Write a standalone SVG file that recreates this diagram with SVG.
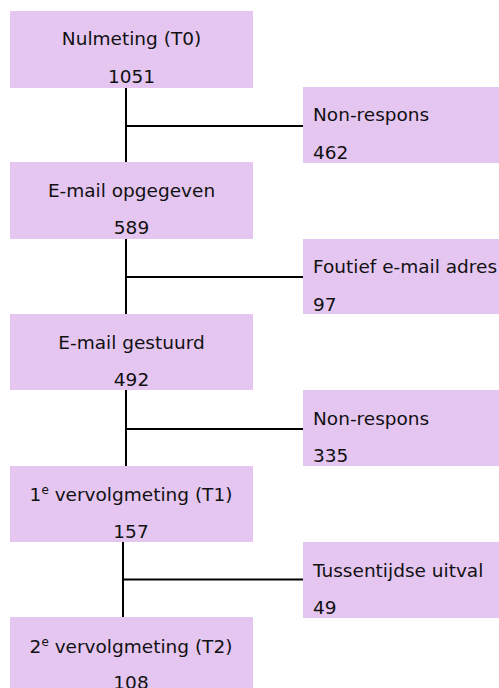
<svg xmlns="http://www.w3.org/2000/svg" width="499" height="688" viewBox="0 0 499 688">
<style>
.box{fill:#e5c6f1}
.t{font-family:"DejaVu Sans","Liberation Sans",sans-serif;font-size:18.5px;fill:#111}
.c{text-anchor:middle}
.ln{stroke:#000;stroke-width:2;fill:none}
</style>
<rect width="499" height="688" fill="#fff"/>
<g id="connectors">
<path class="ln" d="M126 88V162M126 126H303"/>
<path class="ln" d="M126 239V314M126 277H303"/>
<path class="ln" d="M126 390V466M126 429H303"/>
<path class="ln" d="M123 542V617M123 579.5H303"/>
</g>
<g id="n1"><rect class="box" x="10" y="11" width="243" height="77"/>
<text class="t c" x="131.5" y="45">Nulmeting (T0)</text><text class="t c" x="131.5" y="83">1051</text></g>
<g id="n2"><rect class="box" x="303" y="87" width="196" height="76"/>
<text class="t" x="313" y="121">Non-respons</text><text class="t" x="313" y="158.5">462</text></g>
<g id="n3"><rect class="box" x="10" y="162" width="243" height="77"/>
<text class="t c" x="131.5" y="197">E-mail opgegeven</text><text class="t c" x="131.5" y="234">589</text></g>
<g id="n4"><rect class="box" x="303" y="239" width="196" height="75"/>
<text class="t" x="313" y="273">Foutief e-mail adres</text><text class="t" x="313" y="310.5">97</text></g>
<g id="n5"><rect class="box" x="10" y="314" width="243" height="76"/>
<text class="t c" x="131.5" y="348.5">E-mail gestuurd</text><text class="t c" x="131.5" y="386">492</text></g>
<g id="n6"><rect class="box" x="303" y="390" width="196" height="76"/>
<text class="t" x="313" y="424.5">Non-respons</text><text class="t" x="313" y="462">335</text></g>
<g id="n7"><rect class="box" x="10" y="466" width="243" height="76"/>
<text class="t c" x="131" y="500.7">1<tspan font-size="12" dy="-7">e</tspan><tspan dy="7"> vervolgmeting (T1)</tspan></text><text class="t c" x="131" y="537.7">157</text></g>
<g id="n8"><rect class="box" x="303" y="542" width="196" height="76"/>
<text class="t" x="313" y="576.5">Tussentijdse uitval</text><text class="t" x="313" y="614">49</text></g>
<g id="n9"><rect class="box" x="10" y="617" width="243" height="71"/>
<text class="t c" x="131" y="653.3">2<tspan font-size="12" dy="-7">e</tspan><tspan dy="7"> vervolgmeting (T2)</tspan></text><text class="t c" x="131" y="688.5">108</text></g>
</svg>
